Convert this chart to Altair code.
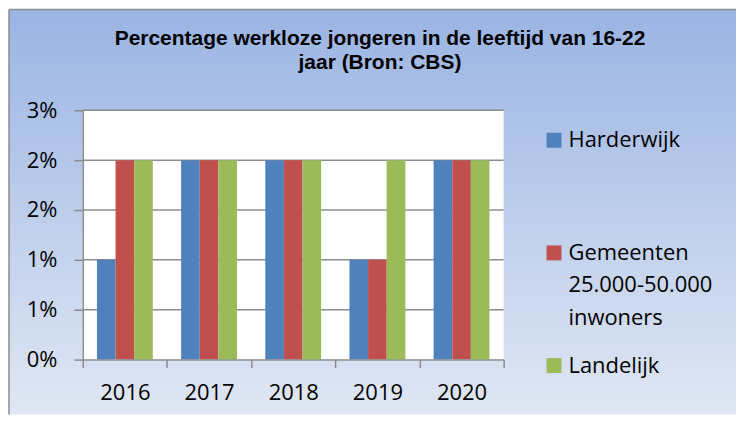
import json
import altair as alt
import pandas as pd

years = ["2016", "2017", "2018", "2019", "2020"]
series = ["Harderwijk", "Gemeenten 25.000-50.000 inwoners", "Landelijk"]
legend_labels = ["Harderwijk", "Gemeenten\n25.000-50.000\ninwoners", "Landelijk"]
colors = ["#4f81bd", "#c0504d", "#9bbb59"]
harderwijk = [0.01, 0.02, 0.02, 0.01, 0.02]
gemeenten = [0.02, 0.02, 0.02, 0.01, 0.02]
landelijk = [0.02, 0.02, 0.02, 0.02, 0.02]
y_ticks = [0, 0.005, 0.01, 0.015, 0.02, 0.025]
y_tick_labels = ["0%", "1%", "1%", "2%", "2%", "3%"]
title_lines = ["Percentage werkloze jongeren in de leeftijd van 16-22", "jaar (Bron: CBS)"]

rows = []
for s, vals in zip(series, [harderwijk, gemeenten, landelijk]):
    for y, v in zip(years, vals):
        rows.append({"year": y, "series": s, "value": v})
df = pd.DataFrame(rows)
grid_df = pd.DataFrame({"value": y_ticks[1:]})
leg_df = pd.DataFrame({"series": series, "label": legend_labels})

W, H = 422, 250
GRAY = "#8c8c8c"
FONT = "Open Sans"

yscale = alt.Scale(domain=[0, 0.025], nice=False, zero=True)
yaxis = alt.Axis(
    values=y_ticks,
    labelExpr=f"{json.dumps(y_tick_labels)}[round(datum.value / 0.005)]",
    grid=False, title=None, domainColor=GRAY, domainWidth=1.5,
    tickColor=GRAY, tickWidth=1.5, tickSize=9, labelPadding=17,
    labelFont=FONT, labelFontSize=22, labelColor="black", zindex=1,
)
xaxis = alt.Axis(
    title=None, labelAngle=0, tickBand="extent", domainColor=GRAY, domainWidth=1.5,
    tickColor=GRAY, tickWidth=1.5, tickSize=8, labelPadding=15,
    labelFont=FONT, labelFontSize=22, labelColor="black", zindex=1,
)

gradient = alt.LinearGradient(
    gradient="linear",
    stops=[alt.GradientStop(color="#9ab4e3", offset=0),
           alt.GradientStop(color="#e0e7f4", offset=1)],
    x1=0, x2=0, y1=0, y2=1,
)
one = alt.Data(values=[{}])
bg = alt.Chart(one).mark_rect(fill=gradient).encode(
    x=alt.value(-74), x2=alt.value(655), y=alt.value(-101), y2=alt.value(305))
border_left = alt.Chart(one).mark_rule(color=GRAY, strokeWidth=1.5).encode(
    x=alt.value(-74), y=alt.value(-101), y2=alt.value(305))
border_top = alt.Chart(one).mark_rule(color=GRAY, strokeWidth=1.5).encode(
    x=alt.value(-74), x2=alt.value(655), y=alt.value(-101))
white = alt.Chart(one).mark_rect(fill="white").encode(
    x=alt.value(0), x2=alt.value(W), y=alt.value(0), y2=alt.value(H))
grid = alt.Chart(grid_df).mark_rule(color=GRAY, strokeWidth=1.5).encode(
    y=alt.Y("value:Q", scale=yscale, axis=yaxis),
    x=alt.value(0), x2=alt.value(W))
bars = alt.Chart(df).mark_bar().encode(
    x=alt.X("year:N", sort=years, scale=alt.Scale(paddingInner=0, paddingOuter=0), axis=xaxis),
    xOffset=alt.XOffset("series:N", sort=series,
                        scale=alt.Scale(domain=series, paddingInner=0, paddingOuter=0.76)),
    y=alt.Y("value:Q", scale=yscale, axis=yaxis),
    color=alt.Color("series:N", scale=alt.Scale(domain=series, range=colors), legend=None),
)
plot = alt.layer(bg, border_left, border_top, white, grid, bars).properties(width=W, height=H)

lscale = alt.Scale(type="point", domain=series, padding=0.2655)
squares = alt.Chart(leg_df).mark_square(size=225, filled=True, opacity=1).encode(
    x=alt.value(7.5),
    y=alt.Y("series:N", scale=lscale, axis=None),
    color=alt.Color("series:N", scale=alt.Scale(domain=series, range=colors), legend=None),
)
text1 = alt.Chart(leg_df).transform_filter("indexof(datum.label, '\\n') < 0").mark_text(
    align="left", baseline="middle", font=FONT, fontSize=22, color="black").encode(
    x=alt.value(22), y=alt.Y("series:N", scale=lscale, axis=None), text="label:N")
text2 = alt.Chart(leg_df).transform_filter("indexof(datum.label, '\\n') >= 0").mark_text(
    align="left", baseline="middle", font=FONT, fontSize=22, color="black",
    lineBreak="\n", lineHeight=32.5).encode(
    x=alt.value(22), y=alt.Y("series:N", scale=lscale, axis=None), text="label:N")
legend = alt.layer(squares, text1, text2).properties(width=150, height=286)

chart = alt.hconcat(
    plot, legend, spacing=43, bounds="flush",
    title=alt.TitleParams(
        text=title_lines, font="Liberation Sans", fontSize=21, fontWeight="bold",
        color="black", lineHeight=24, anchor="middle", frame="bounds",
        offset=-64, dx=7.5),
).configure_view(stroke=None).properties(padding=0)

chart.save("out.html", embed_options={"renderer": "svg", "actions": False})
